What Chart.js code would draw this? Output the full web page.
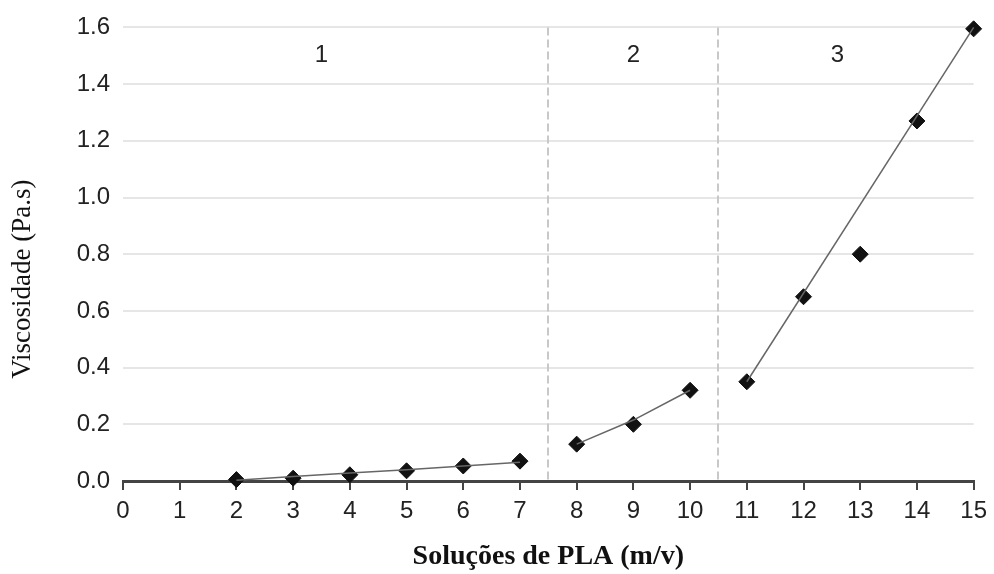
<!DOCTYPE html>
<html>
<head>
<meta charset="utf-8">
<script src="https://cdn.jsdelivr.net/npm/chart.js@4"></script>
<style>
  html, body { margin: 0; padding: 0; background: #fff; }
  #wrap { width: 994px; height: 574px; }
</style>
</head>
<body>
<div id="wrap"><canvas id="myChart" width="994" height="574"></canvas></div>
<script>
// concentração (m/v) e viscosidade
const conc = [2, 3, 4, 5, 6, 7, 8, 9, 10, 11, 12, 13, 14, 15];
const visc = [0.005, 0.01, 0.022, 0.036, 0.053, 0.07, 0.13, 0.2, 0.32, 0.35, 0.65, 0.8, 1.27, 1.595];

// linhas de tendência por região
const trend1X = [2, 3, 4, 5, 6, 7];
const trend1Y = [0.003, 0.016, 0.028, 0.04, 0.053, 0.066];
const trend2X = [8, 9, 10];
const trend2Y = [0.13, 0.215, 0.32];
const trend3X = [11, 15];
const trend3Y = [0.35, 1.6];

// limites e rótulos das regiões
const regionBounds = [7.5, 10.5];
const regionLabels = ['1', '2', '3'];
const regionLabelX = [3.5, 9, 12.6];
const regionLabelY = 1.5;

const xTicks = [0, 1, 2, 3, 4, 5, 6, 7, 8, 9, 10, 11, 12, 13, 14, 15];
const yTitle = 'Viscosidade (Pa.s)';

function toXY(xs, ys) {
  return xs.map((x, i) => ({ x: x, y: ys[i] }));
}

const trendStyle = {
  showLine: true,
  borderColor: '#666',
  borderWidth: 1.5,
  pointRadius: 0,
  pointHoverRadius: 0,
  fill: false,
  clip: false
};

const regionsPlugin = {
  id: 'regions',
  beforeDatasetsDraw(chart) {
    const { ctx, scales: { x, y } } = chart;
    ctx.save();
    ctx.strokeStyle = '#c8c8c8';
    ctx.lineWidth = 2;
    ctx.setLineDash([8, 4]);
    regionBounds.forEach(b => {
      const px = Math.round(x.getPixelForValue(b));
      ctx.beginPath();
      ctx.moveTo(px, y.getPixelForValue(1.6));
      ctx.lineTo(px, y.getPixelForValue(0));
      ctx.stroke();
    });
    ctx.setLineDash([]);
    ctx.fillStyle = '#222';
    ctx.font = '24px "Liberation Sans", Arial, sans-serif';
    ctx.textAlign = 'center';
    ctx.textBaseline = 'middle';
    regionLabels.forEach((t, i) => {
      ctx.fillText(t, x.getPixelForValue(regionLabelX[i]), y.getPixelForValue(regionLabelY));
    });
    // título do eixo y, um pouco abaixo do centro como no original
    ctx.fillStyle = '#111';
    ctx.font = '27px "Liberation Serif", "Times New Roman", serif';
    ctx.translate(23, (chart.chartArea.top + chart.chartArea.bottom) / 2 + 25);
    ctx.rotate(-Math.PI / 2);
    ctx.fillText(yTitle, 0, 0);
    ctx.restore();
  }
};

const config = {
  type: 'scatter',
  data: {
    datasets: [
      Object.assign({ data: toXY(trend1X, trend1Y) }, trendStyle),
      Object.assign({ data: toXY(trend2X, trend2Y) }, trendStyle),
      Object.assign({ data: toXY(trend3X, trend3Y) }, trendStyle),
      {
        label: 'Viscosidade',
        data: toXY(conc, visc),
        pointStyle: 'rectRot',
        pointRadius: 8,
        pointHoverRadius: 8,
        backgroundColor: '#111',
        borderColor: '#111',
        borderWidth: 1,
        showLine: false,
        clip: false
      }
    ]
  },
  options: {
    responsive: false,
    animation: false,
    layout: { padding: { top: 23, right: 14, left: 0, bottom: 0 } },
    plugins: {
      legend: { display: false },
      tooltip: { enabled: false }
    },
    scales: {
      x: {
        type: 'linear',
        min: 0,
        max: 15,
        afterBuildTicks: axis => { axis.ticks = xTicks.map(v => ({ value: v })); },
        afterFit: axis => { axis.height = 93; },
        border: { display: true, color: '#444', width: 3 },
        grid: { drawOnChartArea: false, drawTicks: true, tickLength: 9, color: '#444', lineWidth: 2 },
        ticks: {
          color: '#222',
          padding: 7,
          font: { family: '"Liberation Sans", Arial, sans-serif', size: 24 }
        },
        title: {
          display: true,
          text: 'Soluções de PLA (m/v)',
          color: '#111',
          padding: { top: 0, bottom: 0 },
          font: { family: '"Liberation Serif", "Times New Roman", serif', size: 28, weight: 'bold' }
        }
      },
      y: {
        min: 0,
        max: 1.6,
        afterFit: axis => { axis.width = 123; },
        border: { display: false },
        grid: { color: '#e6e6e6', lineWidth: 2, drawTicks: false },
        ticks: {
          stepSize: 0.2,
          color: '#222',
          padding: 13,
          callback: v => Number(v).toFixed(1),
          font: { family: '"Liberation Sans", Arial, sans-serif', size: 24 }
        },
        title: { display: false }
      }
    }
  },
  plugins: [regionsPlugin]
};

const chart = new Chart(document.getElementById('myChart'), config);
</script>
</body>
</html>
